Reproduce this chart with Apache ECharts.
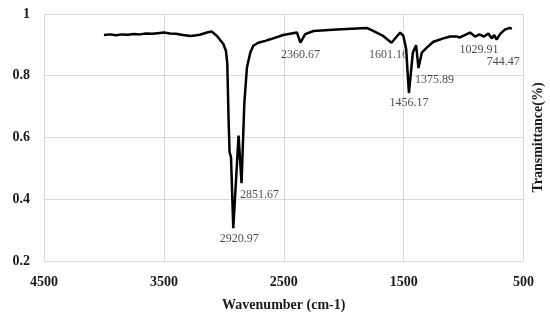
<!DOCTYPE html>
<html>
<head>
<meta charset="utf-8">
<script src="https://cdn.jsdelivr.net/npm/echarts@6/dist/echarts.min.js"></script>
<style>html,body{margin:0;padding:0;background:#fff;}#c{width:550px;height:322px;}</style>
</head>
<body>
<div id="c"></div>
<script>
// Spectrum data
var wavenumbers = [4000,3950,3900,3850,3800,3750,3700,3650,3600,3550,3500,3450,3400,3340,3280,3230,3200,3140,3100,3057,3004,2982,2971,2960,2952,2940,2921,2877,2852,2829,2807,2779,2754,2713,2654,2613,2504,2390,2361,2321,2252,2057,1807,1754,1671,1601,1529,1502,1479,1456,1423,1396,1376,1348,1307,1252,1168,1112,1057,1030,946,904,868,829,793,765,744,724,696,654,612,598];
var transmittance = [0.932,0.934,0.931,0.934,0.933,0.935,0.934,0.937,0.936,0.938,0.940,0.937,0.936,0.932,0.929,0.931,0.933,0.940,0.943,0.929,0.903,0.880,0.839,0.655,0.553,0.536,0.306,0.606,0.452,0.710,0.827,0.875,0.897,0.907,0.913,0.918,0.932,0.940,0.907,0.935,0.945,0.950,0.955,0.945,0.929,0.907,0.940,0.929,0.887,0.744,0.875,0.899,0.825,0.875,0.891,0.910,0.921,0.927,0.927,0.924,0.940,0.927,0.934,0.927,0.937,0.921,0.932,0.917,0.935,0.950,0.955,0.952];
var peakLabels = ["2920.97","2851.67","2360.67","1601.16","1456.17","1375.89","1029.91","744.47"];
var peakWavenumbers = [2920.97,2851.67,2360.67,1601.16,1456.17,1375.89,1029.91,744.47];
var peakValues = [0.306,0.452,0.907,0.907,0.744,0.825,0.924,0.932];
var labelOffsets = [[6,11],[18,12],[0,12],[-3,12],[0,10],[16,12],[19,12],[9,27]];
var xTicks = ["500","1500","2500","3500","4500"];
var yTicks = ["0.2","0.4","0.6","0.8","1"];

var chart = echarts.init(document.getElementById('c'));
var serif = '"Liberation Serif", "DejaVu Serif", serif';
var lineData = wavenumbers.map(function(w,i){return [w, transmittance[i]];});
var peakData = peakWavenumbers.map(function(w,i){
  return {value:[w, peakValues[i]], name: peakLabels[i], label:{offset: labelOffsets[i]}};
});
chart.setOption({
  animation:false,
  grid:{left:44,right:26.5,top:14,bottom:61,containLabel:false,outerBoundsMode:'none'},
  xAxis:{
    type:'value', inverse:true, min:500, max:4500, interval:1000,
    name:'Wavenumber (cm-1)', nameLocation:'middle', nameGap:37,
    nameTextStyle:{fontFamily:serif, fontWeight:'bold', fontSize:14, color:'#1a1a1a'},
    axisLine:{show:false}, axisTick:{show:false},
    axisLabel:{fontFamily:serif, fontWeight:'bold', fontSize:14, color:'#1a1a1a', margin:14,
      formatter:function(v){var i=Math.round((v-500)/1000); return xTicks[i];}},
    splitLine:{show:true, lineStyle:{color:'#d9d9d9', width:1}}
  },
  yAxis:[{
    type:'value', min:0.2, max:1, interval:0.2,
    axisLine:{show:false}, axisTick:{show:false},
    axisLabel:{fontFamily:serif, fontWeight:'bold', fontSize:14, color:'#1a1a1a', margin:14,
      formatter:function(v){var i=Math.round((v-0.2)/0.2); return yTicks[i];}},
    splitLine:{show:true, lineStyle:{color:'#d9d9d9', width:1}}
  },{
    type:'value', min:0.2, max:1, interval:0.2, position:'right',
    name:'Transmittance(%)', nameLocation:'middle', nameRotate:90, nameGap:8,
    nameTextStyle:{fontFamily:serif, fontWeight:'bold', fontSize:14, color:'#1a1a1a'},
    axisLine:{show:false}, axisTick:{show:false}, axisLabel:{show:false}, splitLine:{show:false}
  }],
  series:[{
    type:'line', data:lineData, showSymbol:false, smooth:false,
    lineStyle:{color:'#000', width:2.5}, z:3
  },{
    type:'scatter', data:peakData, symbolSize:0, z:4,
    label:{show:true, position:'inside', formatter:function(p){return p.name;},
      fontFamily:serif, fontSize:12, color:'#1a1a1a'}
  }]
});
</script>
</body>
</html>
